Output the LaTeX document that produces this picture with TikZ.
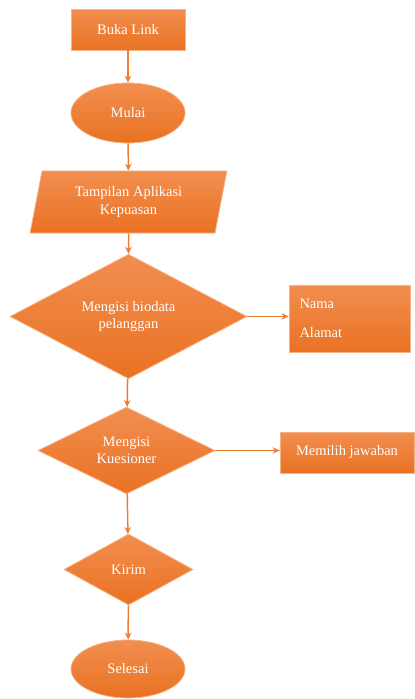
\documentclass[tikz,border=0pt]{standalone}
\usepackage{fontspec}
\setmainfont{Liberation Serif}
\usetikzlibrary{shapes.geometric,arrows.meta}
\definecolor{orTop}{RGB}{242,142,80}
\definecolor{orBot}{RGB}{233,114,34}
\definecolor{orEdge}{RGB}{246,178,132}
\definecolor{orLine}{RGB}{237,125,49}
\tikzset{
  box/.style={top color=orTop, bottom color=orBot, draw=orEdge, line width=0.8pt,
              text=white, font=\fontsize{14.5}{17.5}\selectfont, inner sep=0pt, align=center},
  rectbox/.style={box, rectangle},
  ovalbox/.style={box, ellipse},
  decbox/.style={box, diamond},
  iobox/.style={box, trapezium, trapezium left angle=76.4, trapezium right angle=103.6,
                trapezium stretches=true},
  flow/.style={draw=orLine, line width=1.5pt, -{Stealth[length=7pt,width=6.5pt]}}
}
\begin{document}
\begin{tikzpicture}[x=1pt,y=-1pt]
\useasboundingbox (0,0) rectangle (415,699);

\node[rectbox, minimum width=114, minimum height=41] (buka) at (128,29.5) {Buka Link};
\node[ovalbox, minimum width=114, minimum height=60] (mulai) at (128,113) {Mulai};
\node[iobox, minimum width=197, minimum height=62] (tampil) at (128.5,202) {Tampilan Aplikasi\\Kepuasan};
\node[decbox, minimum width=237, minimum height=107] (biodata) at (128.5,316.5) {Mengisi biodata\\pelanggan};
\node[rectbox, minimum height=67, text width=100, inner xsep=10.5pt, align=left] (data) at (349.5,318.5) {Nama\\[11.5pt]Alamat};
\node[decbox, minimum width=177, minimum height=85] (kues) at (126.5,450.5) {Mengisi\\Kuesioner};
\node[rectbox, minimum width=134, minimum height=41] (jawab) at (347,452.5) {Memilih jawaban};
\node[decbox, minimum width=129, minimum height=71] (kirim) at (128.5,569.5) {Kirim};
\node[ovalbox, minimum width=114, minimum height=58] (selesai) at (128,669) {Selesai};

\draw[flow] (buka) -- (mulai);
\draw[flow] (mulai) -- (tampil);
\draw[flow] (tampil) -- (biodata);
\draw[flow] (biodata.east) -- (data.west |- biodata.east);
\draw[flow] (biodata) -- (kues);
\draw[flow] (kues.east) -- (jawab.west |- kues.east);
\draw[flow] (kues) -- (kirim);
\draw[flow] (kirim) -- (selesai);
\end{tikzpicture}
\end{document}
